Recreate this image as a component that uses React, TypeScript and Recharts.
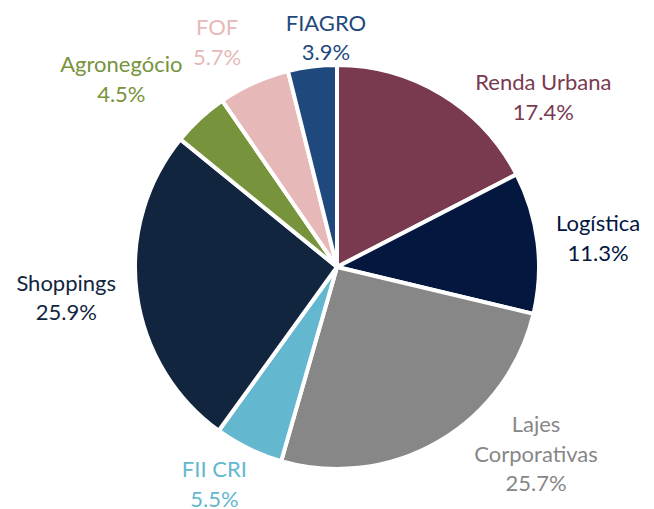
import { PieChart, Pie, Cell } from "recharts";

const categories = [
  "Renda Urbana",
  "Logística",
  "Lajes Corporativas",
  "FII CRI",
  "Shoppings",
  "Agronegócio",
  "FOF",
  "FIAGRO",
];
const shares = [17.4, 11.3, 25.7, 5.5, 25.9, 4.5, 5.7, 3.9];
const labelLines = [
  ["Renda Urbana"],
  ["Logística"],
  ["Lajes", "Corporativas"],
  ["FII CRI"],
  ["Shoppings"],
  ["Agronegócio"],
  ["FOF"],
  ["FIAGRO"],
];
const sliceColors = [
  "#793A50",
  "#03173F",
  "#878787",
  "#63B7CF",
  "#12253F",
  "#77933C",
  "#E6B9B8",
  "#1F497D",
];

// nudges from the radial anchor to where the labels sit (best-fit style)
const labelNudge = [
  [70, 54],
  [1, 3],
  [67, -39],
  [-8, -18],
  [-11, -3],
  [-38, 5],
  [-12, 14],
  [21, 31],
];

const data = categories.map((name, i) => ({ name, value: shares[i] }));

const RADIAN = Math.PI / 180;
const LINE_H = 29.5;
const CAP_H = 15;

const renderLabel = (props: any) => {
  const { cx, cy, midAngle, outerRadius, index } = props;
  const r = outerRadius + 60;
  const x = cx + r * Math.cos(-midAngle * RADIAN) + labelNudge[index][0];
  const y = cy + r * Math.sin(-midAngle * RADIAN) + labelNudge[index][1];
  const lines = [...labelLines[index], `${shares[index].toFixed(1)}%`];
  const first = y - ((lines.length - 1) * LINE_H) / 2 + CAP_H / 2;
  return (
    <text
      x={x}
      y={first}
      fill={sliceColors[index]}
      textAnchor="middle"
      fontFamily="Lato, 'Open Sans', sans-serif"
      fontSize={22}
    >
      {lines.map((line, i) => (
        <tspan key={i} x={x} y={first + i * LINE_H}>
          {line}
        </tspan>
      ))}
    </text>
  );
};

export default function App() {
  return (
    <div style={{ width: 654, height: 509, background: "#fff" }}>
      <style>{`body{margin:0}`}</style>
      <PieChart width={654} height={509}>
        <Pie
          data={data}
          dataKey="value"
          nameKey="name"
          cx={332}
          cy={262}
          outerRadius={202}
          startAngle={90}
          endAngle={-270}
          stroke="#fff"
          strokeWidth={4}
          label={renderLabel}
          labelLine={false}
          isAnimationActive={false}
        >
          {data.map((d, i) => (
            <Cell key={d.name} fill={sliceColors[i]} />
          ))}
        </Pie>
      </PieChart>
    </div>
  );
}
